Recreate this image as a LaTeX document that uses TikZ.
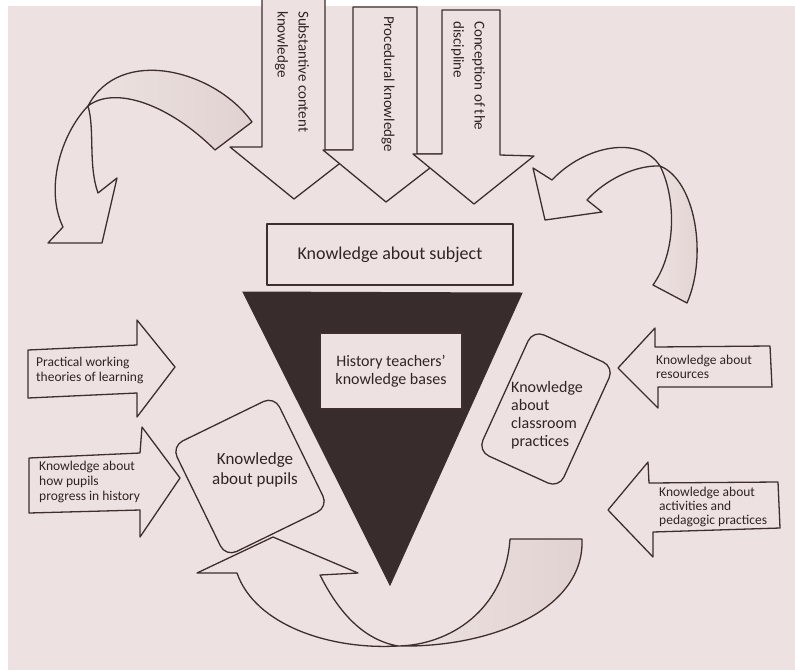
\documentclass[tikz,border=0pt]{standalone}
\usepackage{fontspec}
\setmainfont{Carlito}
\definecolor{paper}{RGB}{237,226,225}
\definecolor{shadec}{RGB}{224,210,209}
\definecolor{inkc}{RGB}{62,46,46}
\definecolor{textc}{RGB}{48,36,36}
\definecolor{trifill}{RGB}{56,44,45}
\begin{document}
\begin{tikzpicture}[x=1pt,y=-1pt,
  panel/.style={draw=inkc, line width=1.3pt, line join=round, fill=paper},
  backpanel/.style={draw=inkc, line width=1.3pt, line join=round},
  rbox/.style={panel, rounded corners=12pt, inner sep=0pt},
  lbl/.style={inner sep=0pt, text=textc},
  arrowfont/.style={font=\fontsize{15}{21}\selectfont},
  smallfont/.style={font=\fontsize{13.5}{15}\selectfont},
  rightfont/.style={font=\fontsize{13.5}{14}\selectfont}]
\useasboundingbox (0,0) rectangle (795,670);
\clip (0,0) rectangle (795,670);

% page
\fill[white] (0,0) rectangle (795,670);
\fill[paper] (8,6) rectangle (795,670);

% central inverted triangle
\filldraw[draw=inkc, line width=1pt, fill=trifill] (243,292) -- (522,293) -- (390,585) -- cycle;

% boxes
\node[panel, inner sep=0pt, minimum width=246pt, minimum height=61pt] (subj) at (390,254.5) {};
\node[lbl, font=\fontsize{18}{21}\selectfont] (subjtxt) at (subj.center) {Knowledge about subject};

\node[panel, inner sep=0pt, minimum width=142pt, minimum height=76pt] (hist) at (391,371) {};
\node[lbl, font=\fontsize{16}{18.5}\selectfont, align=center] (histtxt) at (hist.center) {History teachers'\\knowledge bases};

\node[rbox, minimum width=114pt, minimum height=123pt, rotate=26] (pupilsbox) at (250,476.5) {};
\node[lbl, font=\fontsize{17}{20}\selectfont, align=center] (pupilstxt) at (255,470) {Knowledge\\about pupils};

\node[rbox, minimum width=89pt, minimum height=133pt, rotate=-24.5] (classbox) at (546,409) {};
\node[lbl, font=\fontsize{16}{18}\selectfont, align=left, anchor=west] (classtxt) at (511,415) {Knowledge\\about\\classroom\\practices};

% three downward block arrows
\draw[panel] (262,-5) -- (262,147) -- (230,147) -- (294,199) -- (357,150) -- (325,150) -- (325,-5) -- cycle;
\draw[panel] (353,7) -- (353,150) -- (323,150) -- (386,202) -- (448,154) -- (417,154) -- (417,7) -- cycle;
\draw[panel] (442,10) -- (442,154) -- (413,154) -- (474,204) -- (534,156) -- (500,155) -- (500,10) -- cycle;
\node[lbl, arrowfont, rotate=-90, anchor=west, align=left] (subst) at (292,11) {Substantive content\\knowledge};
\node[lbl, arrowfont, rotate=-90, anchor=west, align=left] (proc) at (388,16) {Procedural knowledge};
\node[lbl, arrowfont, rotate=-90, anchor=west, align=left] (concep) at (468,21) {Conception of the\\discipline};

% twisted ribbon arrow, top left
\path[backpanel, left color=paper, right color=shadec]
  (252,122) .. controls (215,70) and (120,45) .. (88,106)
  .. controls (115,85) and (170,105) .. (215,150) -- cycle;
\draw[panel] (88,106) .. controls (60,135) and (45,190) .. (63,227)
  -- (48,243) -- (102,243) -- (117,178) -- (98,193)
  .. controls (88,165) and (95,130) .. (88,106) -- cycle;

% twisted ribbon arrow, top right
\path[backpanel, left color=paper, right color=shadec]
  (660,166) .. controls (675,195) and (678,250) .. (653,285)
  -- (687,303) .. controls (708,255) and (695,180) .. (660,166) -- cycle;
\draw[panel] (660,166) .. controls (640,135) and (585,145) .. (552,180)
  -- (533,168) -- (545,220) -- (602,212) -- (587,200)
  .. controls (605,180) and (635,165) .. (660,166) -- cycle;

% twisted ribbon arrow, bottom
\path[backpanel, left color=paper, right color=shadec]
  (398,646) .. controls (490,648) and (585,610) .. (582,539)
  -- (510,539) .. controls (505,610) and (450,645) .. (398,646) -- cycle;
\draw[panel] (237,573) .. controls (255,625) and (330,650) .. (398,646)
  .. controls (365,640) and (340,615) .. (320,575)
  -- (358,573) -- (273,537) -- (197,573) -- cycle;

% side block arrows
\draw[panel] (28,350) -- (137,345) -- (137,320) -- (175,367) -- (137,417) -- (137,393) -- (28,398) -- cycle;
\node[lbl, smallfont, align=left, anchor=west] (pract) at (36,370) {Practical working\\theories of learning};

\draw[panel] (29,458) -- (140,453) -- (142,427) -- (180,478) -- (140,537) -- (140,510) -- (29,513) -- cycle;
\node[lbl, smallfont, align=left, anchor=west] (progress) at (39,482) {Knowledge about\\how pupils\\progress in history};

\draw[panel] (618,368) -- (655,328) -- (655,347) -- (770,346) -- (772,387) -- (658,387) -- (658,408) -- cycle;
\node[lbl, rightfont, align=left, anchor=west] (resources) at (656,367) {Knowledge about\\resources};

\draw[panel] (608,510) -- (648,462) -- (649,483) -- (778,482) -- (780,528) -- (653,532) -- (653,557) -- cycle;
\node[lbl, rightfont, align=left, anchor=west] (activities) at (659,507) {Knowledge about\\activities and\\pedagogic practices};
\end{tikzpicture}
\end{document}
